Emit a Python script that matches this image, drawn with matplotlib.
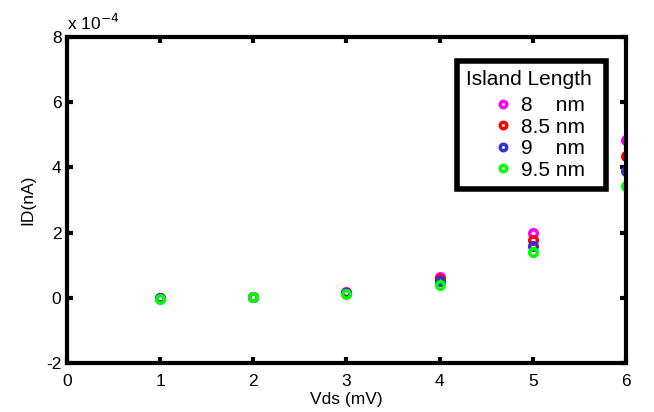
import matplotlib.pyplot as plt
import numpy as np

plt.rcParams['font.family'] = ['Liberation Sans', 'DejaVu Sans']

# drain voltage (mV) and drain current, in units of 1e-4 nA
vds = [1, 2, 3, 4, 5, 6]
id_8 = [-0.02, 0.03, 0.17, 0.65, 1.98, 4.83]
id_85 = [-0.02, 0.03, 0.16, 0.57, 1.77, 4.35]
id_9 = [-0.02, 0.02, 0.14, 0.50, 1.60, 3.88]
id_95 = [-0.03, 0.02, 0.12, 0.40, 1.40, 3.43]
labels = ['8    nm', '8.5 nm', '9    nm', '9.5 nm']
colors = ['#ff00ff', '#ff0000', '#3333cc', '#00ff00']
scale = 1e-4

fig = plt.figure(figsize=(6.54, 4.12), dpi=100)
ax = fig.add_axes([0.1024, 0.119, 0.8546, 0.791])

for ys, lab, c in zip([id_8, id_85, id_9, id_95], labels, colors):
    ax.plot(vds, np.array(ys) * scale, 'o', ms=5.5, mfc='none', mec=c, mew=2.5, label=lab)

ax.set_xlim(0, 6)
ax.set_ylim(-2e-4, 8e-4)
ax.set_xticks(range(0, 7))
ax.set_yticks(np.arange(-2, 9, 2) * scale)
ax.set_yticklabels(['-2', '0', '2', '4', '6', '8'])
ax.tick_params(direction='in', length=4, width=3, labelsize=12.5, top=True, right=True)
ax.tick_params(axis='x', pad=8)
ax.tick_params(axis='y', pad=4)
for s in ax.spines.values():
    s.set_linewidth(3)

ax.text(0.0, 1.012, r'x 10$^{-4}$', transform=ax.transAxes, fontsize=12.5, ha='left', va='bottom')
ax.set_xlabel('Vds (mV)', fontsize=12.5, labelpad=2)
ax.set_ylabel('ID(nA)', fontsize=12.5, labelpad=8)

leg = ax.legend(title='Island Length\u00a0', loc='upper left', bbox_to_anchor=(0.698, 0.927),
                fontsize=15, title_fontsize=15, frameon=True, fancybox=False, framealpha=1,
                handletextpad=-0.95, borderpad=0.42, labelspacing=0.12, handlelength=3.6,
                markerscale=0.85, alignment='left', borderaxespad=0)
leg._legend_box.sep = 5.5  # extra gap under the title
leg.get_frame().set_edgecolor('black')
leg.get_frame().set_linewidth(4)

fig.savefig('out.png', dpi=100)
